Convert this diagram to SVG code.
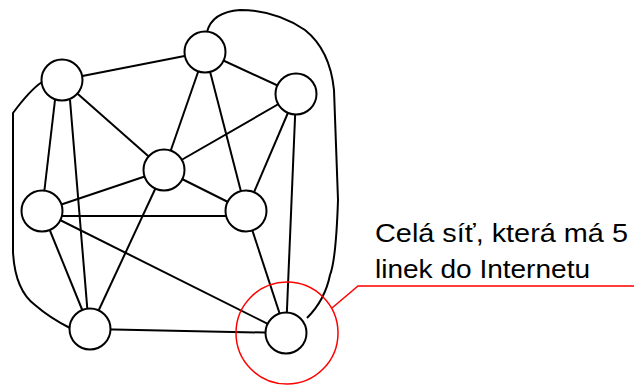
<svg xmlns="http://www.w3.org/2000/svg" width="634" height="385" viewBox="0 0 634 385">
<style>
.n{fill:#fff;stroke:#000;stroke-width:2}
.e{fill:none;stroke:#000;stroke-width:2}
.r{fill:none;stroke:#f00;stroke-width:1.5}
.t{font-family:"Liberation Sans",Arial,sans-serif;font-size:25px;fill:#000}
</style>
<rect width="634" height="385" fill="#fff"/>
<g id="connectors">
<line class="e" x1="62" y1="80" x2="205" y2="52"/>
<line class="e" x1="62" y1="80" x2="164" y2="170"/>
<line class="e" x1="55" y1="100" x2="42" y2="211"/>
<line class="e" x1="70" y1="100" x2="89" y2="329"/>
<path class="e" d="M42,82 Q30,90 13,113 L13,252 Q15,290 35,305 Q50,318 70,328"/>
<line class="e" x1="205" y1="52" x2="164" y2="170"/>
<line class="e" x1="205" y1="52" x2="246" y2="211"/>
<line class="e" x1="205" y1="52" x2="296" y2="94"/>
<path class="e" d="M207,32 Q212,12 240,10 Q275,10 305,30 Q330,50 334,90 L338,200 Q336,260 330,275 Q325,300 307,318"/>
<line class="e" x1="296" y1="94" x2="164" y2="170"/>
<line class="e" x1="296" y1="94" x2="246" y2="211"/>
<line class="e" x1="296" y1="94" x2="286" y2="333"/>
<line class="e" x1="164" y1="170" x2="42" y2="211"/>
<line class="e" x1="164" y1="170" x2="246" y2="211"/>
<line class="e" x1="164" y1="170" x2="90" y2="329"/>
<line class="e" x1="62" y1="216" x2="246" y2="216"/>
<line class="e" x1="42" y1="211" x2="90" y2="329"/>
<line class="e" x1="42" y1="211" x2="286" y2="333"/>
<line class="e" x1="246" y1="211" x2="286" y2="333"/>
<line class="e" x1="90" y1="329" x2="286" y2="333"/>
</g>
<g id="nA"><circle class="n" cx="62" cy="80" r="20.5"/></g>
<g id="nB"><circle class="n" cx="205" cy="52" r="20.5"/></g>
<g id="nC"><circle class="n" cx="296" cy="94" r="20.5"/></g>
<g id="nD"><circle class="n" cx="164" cy="170" r="20.5"/></g>
<g id="nE"><circle class="n" cx="42" cy="211" r="20.5"/></g>
<g id="nF"><circle class="n" cx="246" cy="211" r="20.5"/></g>
<g id="nG"><circle class="n" cx="90" cy="329" r="20.5"/></g>
<g id="nH"><circle class="n" cx="286" cy="333" r="20.5"/></g>
<g id="callout">
<circle class="r" cx="287" cy="333" r="51"/>
<polyline class="r" points="332,308 358,286 634,286"/>
<text class="t" x="375" y="242" textLength="253" lengthAdjust="spacingAndGlyphs">Celá síť, která má 5</text>
<text class="t" x="375" y="278" textLength="215" lengthAdjust="spacingAndGlyphs">linek do Internetu</text>
</g>
</svg>
